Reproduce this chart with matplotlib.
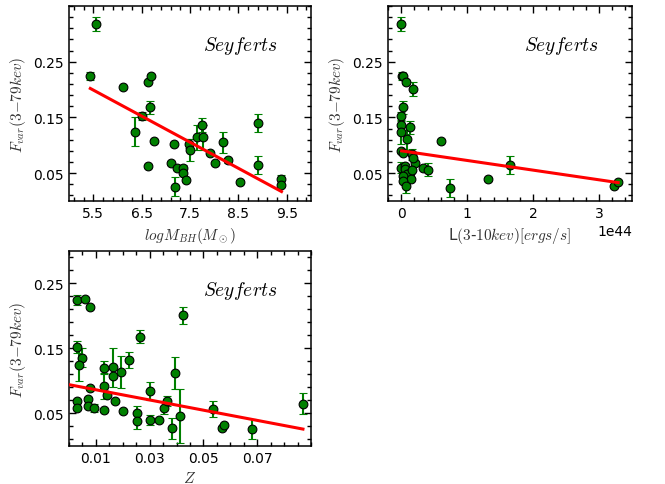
import matplotlib
matplotlib.use("Agg")
import matplotlib.pyplot as plt
from matplotlib.ticker import AutoMinorLocator

plt.rcParams['mathtext.fontset'] = 'cm'
plt.rcParams['font.family'] = 'DejaVu Sans'
plt.rcParams['xtick.direction'] = 'in'
plt.rcParams['ytick.direction'] = 'in'

# Panel 1: log M_BH vs Fvar
mbh_x = [5.56, 5.44, 6.12, 6.64, 6.69, 6.68, 6.50, 6.36, 6.75, 6.64, 7.17, 7.11, 7.23, 7.19,
         7.35, 7.35, 7.41, 7.47, 7.50, 7.64, 7.74, 7.77, 7.91, 8.01, 8.18, 8.29, 8.54, 8.90,
         8.90, 9.38, 9.38]
mbh_fvar = [0.318, 0.224, 0.204, 0.213, 0.225, 0.168, 0.153, 0.124, 0.107, 0.062, 0.103, 0.068,
            0.059, 0.026, 0.060, 0.050, 0.038, 0.103, 0.091, 0.114, 0.136, 0.114, 0.087, 0.069,
            0.105, 0.073, 0.035, 0.140, 0.065, 0.039, 0.028]
mbh_err = [0.013, 0.007, 0.003, 0.003, 0.003, 0.011, 0.007, 0.026, 0.003, 0.003, 0.003, 0.003,
           0.003, 0.017, 0.005, 0.003, 0.003, 0.008, 0.020, 0.022, 0.013, 0.022, 0.003, 0.003,
           0.018, 0.005, 0.003, 0.016, 0.016, 0.008, 0.003]
mbh_fit_x = [5.44, 9.39]
mbh_fit_y = [0.202, 0.017]

# Panel 2: L(3-10 keV) vs Fvar
lum_x = [0.0, 0.007, 0.03, 0.07, 0.18, 0.03, 0.0, 0.0, 0.0, 0.13, 0.09, 0.61, 0.0, 0.02,
         0.17, 0.21, 0.18, 0.33, 0.40, 0.0, 0.06, 0.06, 0.13, 0.09, 0.03, 0.15, 0.03, 0.08,
         0.17, 0.74, 1.31, 1.65, 3.22, 3.29]
lum_x = [v * 1e44 for v in lum_x]
lum_fvar = [0.318, 0.225, 0.224, 0.213, 0.201, 0.168, 0.152, 0.136, 0.123, 0.132, 0.112, 0.108,
            0.090, 0.087, 0.084, 0.069, 0.078, 0.060, 0.056, 0.060, 0.063, 0.057, 0.051, 0.048,
            0.045, 0.039, 0.036, 0.027, 0.056, 0.024, 0.039, 0.065, 0.027, 0.035]
lum_err = [0.013, 0.007, 0.003, 0.003, 0.012, 0.011, 0.007, 0.003, 0.020, 0.012, 0.020, 0.003,
           0.003, 0.003, 0.010, 0.003, 0.003, 0.003, 0.012, 0.010, 0.003, 0.003, 0.003, 0.003,
           0.003, 0.003, 0.003, 0.013, 0.003, 0.016, 0.003, 0.016, 0.003, 0.003]
lum_fit_x = [0.007e44, 3.29e44]
lum_fit_y = [0.090, 0.033]

# Panel 3: redshift vs Fvar
z_x = [0.0031, 0.0060, 0.0079, 0.0031, 0.0050, 0.0038, 0.0031, 0.0031, 0.0069, 0.0069, 0.0079,
       0.0092, 0.0131, 0.0131, 0.0140, 0.0131, 0.0162, 0.0162, 0.0171, 0.0192, 0.0202, 0.0223,
       0.0252, 0.0252, 0.0264, 0.0302, 0.0302, 0.0333, 0.0355, 0.0366, 0.0384, 0.0394, 0.0414,
       0.0425, 0.0537, 0.0568, 0.0578, 0.0679, 0.0872]
z_fvar = [0.225, 0.226, 0.214, 0.152, 0.136, 0.125, 0.069, 0.059, 0.072, 0.062, 0.089, 0.059,
          0.120, 0.092, 0.079, 0.056, 0.121, 0.108, 0.069, 0.114, 0.054, 0.132, 0.050, 0.038,
          0.168, 0.085, 0.040, 0.040, 0.059, 0.069, 0.027, 0.112, 0.046, 0.201, 0.057, 0.028,
          0.033, 0.026, 0.065]
z_err = [0.008, 0.003, 0.003, 0.009, 0.015, 0.025, 0.003, 0.003, 0.003, 0.003, 0.003, 0.006,
         0.010, 0.020, 0.003, 0.003, 0.030, 0.003, 0.003, 0.025, 0.003, 0.012, 0.012, 0.012,
         0.010, 0.014, 0.008, 0.003, 0.010, 0.008, 0.016, 0.025, 0.042, 0.013, 0.012, 0.003,
         0.003, 0.015, 0.016]
z_fit_x = [0.0004, 0.087]
z_fit_y = [0.094, 0.026]

ylabel = r'$F_{var}(3{-}79kev)$'

fig = plt.figure(figsize=(6.65, 4.85), dpi=100)
ax1 = fig.add_axes([0.1038, 0.5835, 0.3639, 0.4021])
ax2 = fig.add_axes([0.5835, 0.5835, 0.3669, 0.4021])
ax3 = fig.add_axes([0.1038, 0.0784, 0.3639, 0.4021])

panels = [
    (ax1, mbh_x, mbh_fvar, mbh_err, mbh_fit_x, mbh_fit_y),
    (ax2, lum_x, lum_fvar, lum_err, lum_fit_x, lum_fit_y),
    (ax3, z_x, z_fvar, z_err, z_fit_x, z_fit_y),
]

for ax, x, y, e, fx, fy in panels:
    ax.errorbar(x, y, yerr=e, fmt='o', color='g', ecolor='g', mec='k', mew=0.8,
                ms=6.3, elinewidth=1.5, capsize=3, capthick=1.5, zorder=2)
    ax.plot(fx, fy, color='r', lw=2.2, zorder=3)
    ax.text(0.71, 0.80, r'$Seyferts$', transform=ax.transAxes, ha='center', va='center',
            fontsize=14)
    ax.set_ylabel(ylabel, fontsize=11, color='0.2')
    ax.yaxis.set_minor_locator(AutoMinorLocator())
    ax.xaxis.set_minor_locator(AutoMinorLocator())
    ax.tick_params(which='both', top=True, right=True, labelsize=10, width=1)
    ax.tick_params(which='major', length=5)
    ax.tick_params(which='minor', length=2.8)
    for s in ax.spines.values():
        s.set_linewidth(1.1)

ax1.set_xlim(5, 10)
ax1.set_ylim(0, 0.35)
ax1.set_xticks([5.5, 6.5, 7.5, 8.5, 9.5])
ax1.set_yticks([0.05, 0.15, 0.25])
ax1.set_xlabel(r'$logM_{BH}(M_\odot)$', fontsize=11, color='0.2')

ax2.set_xlim(-0.2e44, 3.5e44)
ax2.set_ylim(0, 0.35)
ax2.set_xticks([0, 1e44, 2e44, 3e44])
ax2.set_yticks([0.05, 0.15, 0.25])
ax2.set_xlabel(r'L$(3$-$10kev)[ergs/s]$', fontsize=11, color='0.2')

ax3.set_xlim(0, 0.09)
ax3.set_ylim(0, 0.30)
ax3.set_xticks([0.01, 0.03, 0.05, 0.07])
ax3.set_yticks([0.05, 0.15, 0.25])
ax3.set_xlabel(r'$Z$', fontsize=11, color='0.2')

fig.savefig('out.png', dpi=100)
